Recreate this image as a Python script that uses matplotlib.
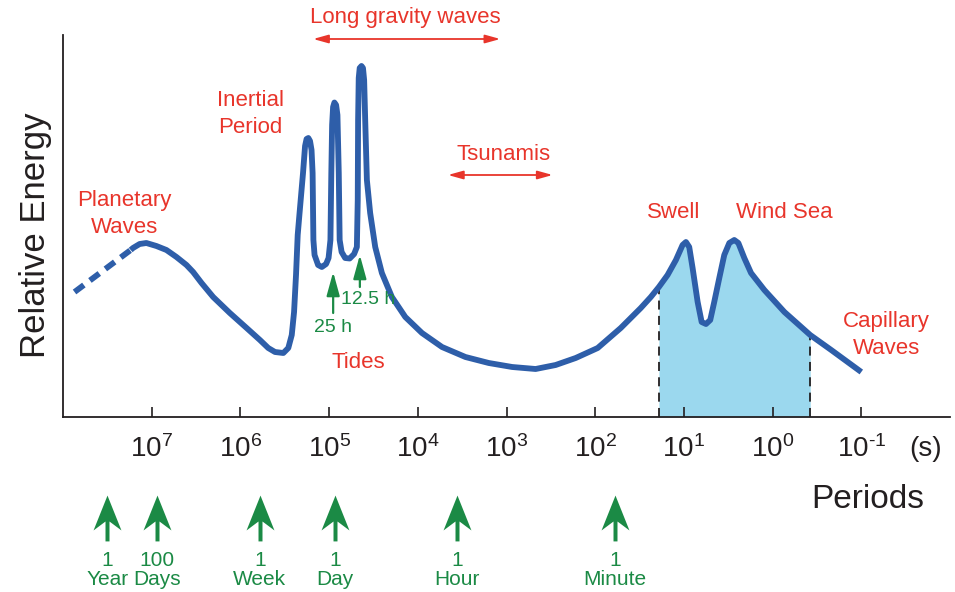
import numpy as np
import matplotlib
matplotlib.use('Agg')
from matplotlib import pyplot as plt
from matplotlib.path import Path

plt.rcParams['font.family'] = ['Liberation Sans', 'DejaVu Sans']
plt.rcParams['mathtext.fontset'] = 'custom'
plt.rcParams['mathtext.rm'] = 'Liberation Sans'
plt.rcParams['mathtext.it'] = 'Liberation Sans:italic'

# spectrum: log10(period / s) and relative energy
log_period = [7.237, 7.211, 7.136, 7.060, 6.947, 6.834, 6.721, 6.608, 6.533,
              6.438, 6.307, 6.119, 5.930, 5.780, 5.686, 5.610, 5.516, 5.460,
              5.421, 5.395, 5.373, 5.354, 5.335, 5.294,
              5.271, 5.254, 5.234, 5.215, 5.198, 5.186, 5.177, 5.164, 5.124,
              5.082, 5.034, 5.006, 4.985, 4.975, 4.966, 4.955, 4.940, 4.921,
              4.906, 4.891, 4.881, 4.859, 4.819, 4.768, 4.718, 4.687, 4.677,
              4.673, 4.666, 4.655, 4.635, 4.618, 4.605, 4.593, 4.574, 4.537,
              4.480, 4.405, 4.292, 4.141, 3.953, 3.727, 3.463, 3.200, 2.936,
              2.672, 2.446, 2.220, 1.972, 1.712, 1.486, 1.373, 1.282,
              1.184, 1.090, 1.015, 0.977, 0.940, 0.902, 0.845, 0.800, 0.751,
              0.703, 0.658, 0.601, 0.545, 0.488, 0.432, 0.386, 0.319, 0.243,
              0.093, -0.133, -0.424, -0.661, -1.0]
energy = [167, 169, 173, 174, 171, 167, 160, 152, 145,
          134, 120, 104, 89, 77, 69, 65, 64, 69,
          82, 105, 142, 182, 202, 244,
          271, 278, 279, 276, 267, 244, 177, 162, 152,
          150, 153, 159, 177, 244, 292, 310, 314.5, 312,
          302, 244, 177, 165, 159, 158.5, 163, 170, 217,
          297, 339, 349, 351, 349, 337, 297, 237, 204,
          170, 144, 120, 100, 84, 70, 60, 54, 50,
          48, 52, 59, 69, 89, 109, 120, 130,
          142, 157, 172, 175, 170, 149, 115, 95, 93,
          97, 115, 139, 162, 174, 177, 174, 159, 144,
          127, 105, 82, 67, 45]
dashed_log_period = [7.870, 7.237]
dashed_energy = [125, 167]

# wind-wave band (shaded), log10 period
band = [1.282, -0.424]

ticks = [7, 6, 5, 4, 3, 2, 1, 0, -1]

time_labels = ['1\nYear', '100\nDays', '1\nWeek', '1\nDay', '1\nHour', '1\nMinute']
time_seconds = [3.156e7, 8.64e6, 6.048e5, 8.64e4, 3600, 60]

tide_labels = ['25 h', '12.5 h']
tide_seconds = [25 * 3600, 12.5 * 3600]

RED = '#e8352b'
GREEN = '#1b8a45'
BLUE = '#2e5ea9'
DARK = '#231f20'

log_period = np.array(log_period)
period = 10.0 ** log_period
energy = np.array(energy)

fig = plt.figure(figsize=(9.55, 5.92), dpi=100)
ax = fig.add_axes([63 / 955, 175 / 592, 887 / 955, 382 / 592])
ax.set_xscale('log')
ax.set_xlim(1e8, 1e-2)
ax.set_ylim(0, 382)

# shaded band under the curve
inside = (log_period <= band[0]) & (log_period >= band[1])
ax.fill_between(period[inside], 0, energy[inside], color='#9bd8ee', lw=0)
for b in band:
    e = energy[log_period == b][0]
    ax.plot([10.0 ** b] * 2, [0, e], color=DARK, lw=1.3, ls=(0, (5, 3.5)))

ax.plot(period, energy, color=BLUE, lw=4.2, solid_joinstyle='round',
        solid_capstyle='butt')
ax.plot(10.0 ** np.array(dashed_log_period), dashed_energy, color=BLUE, lw=4.2,
        ls=(0, (2.0, 1.3)))

for s in ['top', 'right']:
    ax.spines[s].set_visible(False)
for s in ['left', 'bottom']:
    ax.spines[s].set_color(DARK)
    ax.spines[s].set_linewidth(1.3)
ax.set_yticks([])
ax.set_xticks([10.0 ** t for t in ticks])
ax.set_xticklabels([r'$\mathregular{10^{%s}}$' % (r'\text{-}%d' % -t if t < 0 else t)
                    for t in ticks])
ax.xaxis.set_minor_locator(matplotlib.ticker.NullLocator())
ax.tick_params(axis='x', direction='in', length=7.5, width=1.2, color=DARK,
               pad=13, labelsize=20, labelcolor=DARK)

ax.text(10 ** -1.73, -32, '(s)', fontsize=20, color=DARK, ha='center',
        va='center', clip_on=False)
ax.text(10 ** -1.07, -83, 'Periods', fontsize=24, color=DARK, ha='center',
        va='center', clip_on=False)
fig.text(36 / 955, 1 - 235 / 592, 'Relative Energy', fontsize=25, color=DARK,
         rotation=90, ha='center', va='center')

# red labels
red = dict(color=RED, fontsize=16, ha='center', va='center', linespacing=1.35)
ax.text(10 ** 4.14, 399, 'Long gravity waves', clip_on=False, **red)
ax.text(10 ** 5.89, 303, 'Inertial\nPeriod', **red)
ax.text(10 ** 7.31, 203, 'Planetary\nWaves', **red)
ax.text(10 ** 3.03, 262, 'Tsunamis', **red)
ax.text(10 ** 1.12, 204, 'Swell', **red)
ax.text(10 ** -0.13, 204, 'Wind Sea', **red)
ax.text(10 ** -1.28, 82, 'Capillary\nWaves', **red)
ax.text(10 ** 4.67, 54, 'Tides', **red)

arrow_red = dict(arrowstyle='<|-|>,head_length=0.9,head_width=0.25',
                 color=RED, lw=1.3, mutation_scale=10,
                 shrinkA=0, shrinkB=0)
ax.annotate('', xy=(10 ** 3.07, 378), xytext=(10 ** 5.18, 378),
            arrowprops=arrow_red, annotation_clip=False)
ax.annotate('', xy=(10 ** 2.48, 242), xytext=(10 ** 3.66, 242),
            arrowprops=arrow_red)

# tidal arrows
arrow_green = dict(arrowstyle='-|>,head_length=1.2,head_width=0.33',
                   color=GREEN, lw=1.6, mutation_scale=12,
                   shrinkA=0, shrinkB=0)
ax.annotate('', xy=(tide_seconds[0], 145), xytext=(tide_seconds[0], 104),
            arrowprops=arrow_green)
ax.annotate('', xy=(tide_seconds[1], 162), xytext=(tide_seconds[1], 130),
            arrowprops=arrow_green)
ax.text(tide_seconds[0], 90, tide_labels[0], color=GREEN, fontsize=14,
        ha='center', va='center')
ax.text(10 ** 4.56, 117, tide_labels[1], color=GREEN, fontsize=14,
        ha='center', va='center')

# time-scale arrows under the axis
arrow_shape = Path([(0, 23), (14, -12), (2, -3), (2, -23), (-2, -23),
                    (-2, -3), (-14, -12), (0, 23)],
                   [Path.MOVETO] + [Path.LINETO] * 6 + [Path.CLOSEPOLY])
ax.plot(time_seconds, [-101] * len(time_seconds), ls='none',
        marker=arrow_shape, markersize=33, color=GREEN, mec='none',
        clip_on=False)
for s, lab in zip(time_seconds, time_labels):
    ax.text(s, -153, lab, color=GREEN, fontsize=15, ha='center', va='center',
            linespacing=1.0, clip_on=False)

fig.savefig('out.png', dpi=100)
